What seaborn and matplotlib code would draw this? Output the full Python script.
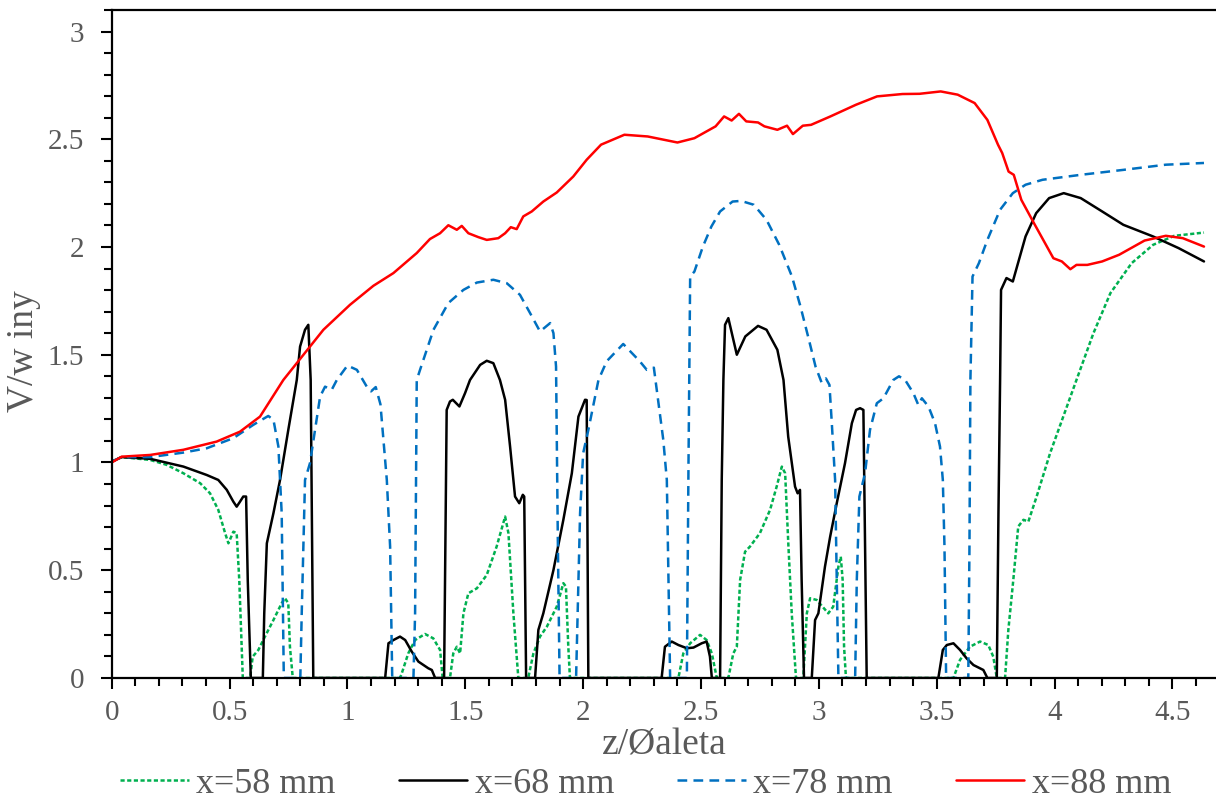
import numpy as np
import pandas as pd
import seaborn as sns
import matplotlib.pyplot as plt
import matplotlib.ticker as mtick

sns.set_style('ticks')
plt.rcParams['font.family'] = ['Liberation Serif', 'DejaVu Serif']
plt.rcParams['lines.scale_dashes'] = False

# x=58 mm
x58 = [0, 0.042, 0.163, 0.233, 0.304, 0.375, 0.417, 0.452, 0.481, 0.495, 0.516, 0.53,
       0.541, 0.556, 0.587, 0.598, 0.622, 0.65, 0.686, 0.721, 0.735, 0.749, 0.756, 0.768,
       1.223, 1.23, 1.258, 1.287, 1.329, 1.364, 1.393, 1.404, 1.435, 1.449, 1.464, 1.478,
       1.492, 1.513, 1.549, 1.591, 1.633, 1.669, 1.683, 1.704, 1.725, 1.767, 1.789, 1.817,
       1.846, 1.888, 1.916, 1.927, 1.937, 1.944, 2.404, 2.425, 2.454, 2.496, 2.524, 2.546,
       2.567, 2.616, 2.637, 2.652, 2.666, 2.687, 2.708, 2.75, 2.793, 2.821, 2.843, 2.857,
       2.871, 2.885, 2.903, 2.934, 2.949, 2.963, 2.991, 3.04, 3.061, 3.083, 3.093, 3.101,
       3.107, 3.115, 3.571, 3.599, 3.641, 3.684, 3.719, 3.74, 3.755, 3.79, 3.804, 3.825,
       3.846, 3.868, 3.889, 3.924, 3.981, 4.037, 4.093, 4.165, 4.237, 4.327, 4.418, 4.508,
       4.634]
v58 = [1.004, 1.025, 1.012, 0.989, 0.95, 0.904, 0.857, 0.78, 0.672, 0.625, 0.679, 0.672,
       0.455, 0, 0, 0.099, 0.13, 0.192, 0.269, 0.347, 0.37, 0.347, 0.145, 0,
       0, 0.02, 0.114, 0.176, 0.204, 0.184, 0.13, 0, 0, 0.114, 0.145, 0.114,
       0.3, 0.393, 0.416, 0.478, 0.61, 0.749, 0.672, 0.3, 0, 0, 0.114, 0.192,
       0.238, 0.331, 0.44, 0.424, 0.145, 0, 0, 0.114, 0.161, 0.2, 0.176, 0.114,
       0, 0, 0.114, 0.145, 0.455, 0.586, 0.61, 0.672, 0.78, 0.888, 0.981, 0.95,
       0.61, 0.3, 0, 0, 0.3, 0.37, 0.362, 0.3, 0.331, 0.517, 0.563, 0.455,
       0.145, 0, 0, 0.084, 0.145, 0.169, 0.153, 0.099, 0, 0, 0.223, 0.455,
       0.703, 0.734, 0.726, 0.842, 1.043, 1.213, 1.383, 1.6, 1.786, 1.925, 2.01, 2.052,
       2.067]

# x=68 mm
x68 = [0, 0.042, 0.163, 0.304, 0.403, 0.452, 0.488, 0.516, 0.53, 0.544, 0.558, 0.57,
       0.577, 0.59, 0.641, 0.647, 0.658, 0.686, 0.714, 0.749, 0.785, 0.799, 0.82, 0.834,
       0.844, 0.855, 1.16, 1.174, 1.195, 1.223, 1.245, 1.273, 1.301, 1.343, 1.358, 1.372,
       1.41, 1.421, 1.435, 1.447, 1.475, 1.499, 1.52, 1.563, 1.591, 1.619, 1.647, 1.669,
       1.69, 1.711, 1.729, 1.744, 1.75, 1.758, 1.796, 1.81, 1.831, 1.874, 1.916, 1.952,
       1.98, 2.008, 2.015, 2.022, 2.333, 2.347, 2.376, 2.404, 2.44, 2.468, 2.503, 2.524,
       2.538, 2.546, 2.581, 2.588, 2.595, 2.602, 2.616, 2.652, 2.688, 2.742, 2.778, 2.824,
       2.85, 2.87, 2.899, 2.91, 2.92, 2.927, 2.937, 2.97, 2.984, 2.998, 3.026, 3.048,
       3.076, 3.111, 3.14, 3.158, 3.175, 3.189, 3.196, 3.203, 3.507, 3.526, 3.543, 3.571,
       3.599, 3.627, 3.656, 3.698, 3.715, 3.755, 3.762, 3.769, 3.773, 3.796, 3.823, 3.841,
       3.877, 3.922, 3.977, 4.039, 4.111, 4.202, 4.292, 4.418, 4.526, 4.634]
v68 = [1.004, 1.025, 1.017, 0.981, 0.942, 0.919, 0.873, 0.818, 0.795, 0.818, 0.842, 0.842,
       0.455, 0, 0, 0.3, 0.625, 0.765, 0.919, 1.151, 1.383, 1.538, 1.616, 1.639,
       1.383, 0, 0, 0.161, 0.176, 0.192, 0.176, 0.122, 0.076, 0.045, 0.037, 0,
       0, 1.244, 1.283, 1.291, 1.26, 1.322, 1.383, 1.453, 1.472, 1.461, 1.383, 1.291,
       1.074, 0.842, 0.811, 0.85, 0.842, 0, 0, 0.223, 0.3, 0.501, 0.734, 0.95,
       1.213, 1.291, 1.29, 0, 0, 0.145, 0.169, 0.153, 0.138, 0.141, 0.161, 0.169,
       0.099, 0, 0, 0.919, 1.383, 1.639, 1.67, 1.5, 1.585, 1.634, 1.616, 1.523,
       1.383, 1.12, 0.888, 0.857, 0.873, 0.455, 0, 0, 0.269, 0.3, 0.517, 0.656,
       0.811, 0.997, 1.182, 1.244, 1.252, 1.244, 0.61, 0, 0, 0.13, 0.153, 0.161,
       0.13, 0.091, 0.06, 0.037, 0, 0, 0.765, 1.383, 1.801, 1.856, 1.84, 1.91,
       2.049, 2.157, 2.227, 2.25, 2.227, 2.165, 2.103, 2.049, 1.995, 1.933]

# x=78 mm
x78 = [0, 0.042, 0.163, 0.304, 0.403, 0.516, 0.601, 0.664, 0.686, 0.707, 0.721, 0.73,
       0.80, 0.806, 0.82, 0.841, 0.884, 0.905, 0.933, 0.955, 1.0, 1.04, 1.082, 1.10,
       1.12, 1.14, 1.167, 1.181, 1.19, 1.28, 1.287, 1.294, 1.308, 1.365, 1.428, 1.492,
       1.549, 1.619, 1.676, 1.732, 1.775, 1.817, 1.86, 1.874, 1.885, 1.893, 1.90, 1.97,
       1.987, 2.0, 2.022, 2.065, 2.10, 2.17, 2.24, 2.27, 2.3, 2.34, 2.355, 2.369,
       2.44, 2.447, 2.454, 2.472, 2.508, 2.544, 2.581, 2.634, 2.67, 2.724, 2.778, 2.832,
       2.886, 2.922, 2.958, 2.986, 3.012, 3.03, 3.045, 3.055, 3.069, 3.076, 3.083, 3.154,
       3.161, 3.172, 3.196, 3.217, 3.246, 3.274, 3.316, 3.34, 3.366, 3.401, 3.422, 3.437,
       3.465, 3.493, 3.514, 3.526, 3.533, 3.54, 3.634, 3.639, 3.643, 3.652, 3.679, 3.715,
       3.769, 3.823, 3.877, 3.949, 4.111, 4.292, 4.472, 4.634]
v78 = [1.004, 1.025, 1.025, 1.046, 1.066, 1.113, 1.175, 1.216, 1.198, 1.074, 0.765, 0,
       0, 0.3, 0.919, 0.997, 1.306, 1.352, 1.337, 1.383, 1.45, 1.43, 1.352, 1.33,
       1.35, 1.27, 0.919, 0.61, 0, 0, 0.3, 1.383, 1.43, 1.616, 1.74, 1.801,
       1.835, 1.848, 1.832, 1.778, 1.693, 1.608, 1.647, 1.6, 1.445, 0.6, 0, 0,
       0.765, 1.043, 1.151, 1.383, 1.47, 1.55, 1.47, 1.43, 1.44, 1.105, 0.919, 0,
       0, 1.0, 1.863, 1.886, 2.002, 2.095, 2.165, 2.211, 2.214, 2.196, 2.126, 2.01,
       1.863, 1.724, 1.569, 1.445, 1.37, 1.39, 1.36, 1.182, 0.919, 0.455, 0, 0,
       0.455, 0.842, 0.95, 1.151, 1.275, 1.298, 1.383, 1.40, 1.383, 1.322, 1.267, 1.298,
       1.26, 1.182, 1.074, 0.919, 0.61, 0, 0, 0.61, 1.383, 1.863, 1.925, 2.033,
       2.173, 2.25, 2.289, 2.312, 2.335, 2.358, 2.382, 2.39]

# x=88 mm
x88 = [0, 0.042, 0.163, 0.304, 0.445, 0.544, 0.629, 0.728, 0.898, 1.011, 1.11, 1.195,
       1.294, 1.35, 1.393, 1.428, 1.464, 1.485, 1.513, 1.555, 1.591, 1.64, 1.669, 1.693,
       1.718, 1.746, 1.782, 1.831, 1.888, 1.958, 2.015, 2.076, 2.175, 2.274, 2.4, 2.472,
       2.562, 2.598, 2.63, 2.661, 2.692, 2.742, 2.769, 2.824, 2.865, 2.89, 2.932, 2.967,
       3.049, 3.157, 3.247, 3.355, 3.427, 3.517, 3.589, 3.661, 3.715, 3.76, 3.778, 3.805,
       3.827, 3.859, 3.913, 3.995, 4.031, 4.067, 4.093, 4.139, 4.202, 4.274, 4.382, 4.472,
       4.544, 4.634]
v88 = [1.0, 1.027, 1.035, 1.059, 1.097, 1.143, 1.213, 1.383, 1.616, 1.732, 1.82, 1.879,
       1.972, 2.037, 2.064, 2.101, 2.08, 2.098, 2.064, 2.046, 2.033, 2.041, 2.064, 2.092,
       2.083, 2.142, 2.165, 2.211, 2.253, 2.327, 2.405, 2.475, 2.521, 2.513, 2.485, 2.505,
       2.56, 2.606, 2.587, 2.618, 2.583, 2.578, 2.56, 2.544, 2.563, 2.524, 2.563, 2.567,
       2.606, 2.66, 2.699, 2.71, 2.711, 2.722, 2.707, 2.668, 2.59, 2.475, 2.436, 2.35,
       2.335, 2.219, 2.11, 1.948, 1.933, 1.897, 1.917, 1.917, 1.933, 1.964, 2.03, 2.052,
       2.041, 2.002]

series = [
    ('x=58 mm', x58, v58, '#00B050', (0, (3, 1.8))),
    ('x=68 mm', x68, v68, 'black', '-'),
    ('x=78 mm', x78, v78, '#0070C0', (0, (7, 4.5))),
    ('x=88 mm', x88, v88, '#FF0000', '-'),
]

grey = '#595959'

fig = plt.figure(figsize=(12.16, 8.05), dpi=100)
ax = fig.add_axes([0.0919, 0.1578, 0.9081, 0.8298])

for name, xs, ys, col, ls in series:
    sns.lineplot(x=xs, y=ys, ax=ax, color=col, linewidth=1.8, linestyle=ls,
                 estimator=None, sort=False, label=name)

ax.set_xlim(0, 4.685)
ax.set_ylim(0, 3.1)
ax.xaxis.set_major_locator(mtick.MultipleLocator(0.5))
ax.xaxis.set_minor_locator(mtick.MultipleLocator(0.1))
ax.yaxis.set_major_locator(mtick.FixedLocator([0, 0.5, 1, 1.5, 2, 2.5, 3]))
ax.yaxis.set_minor_locator(mtick.MultipleLocator(0.1))
fmt = mtick.FuncFormatter(lambda v, p: f'{v:g}')
ax.xaxis.set_major_formatter(fmt)
ax.yaxis.set_major_formatter(fmt)

ax.tick_params(which='major', length=8, width=1.5, direction='out',
               labelsize=21, labelcolor=grey, color='black')
ax.tick_params(which='minor', length=6, width=1.5, direction='out', color='black')
ax.tick_params(axis='y', which='major', pad=12)
ax.tick_params(axis='x', which='major', pad=8)

for s in ['left', 'bottom', 'top']:
    ax.spines[s].set_linewidth(1.6)
    ax.spines[s].set_color('black')
ax.spines['right'].set_visible(False)

ax.set_xlabel('z/Øaleta', fontsize=27, color=grey)
ax.set_ylabel('V/w iny', fontsize=27, color=grey)
ax.xaxis.set_label_coords(0.5, -0.075)
ax.yaxis.set_label_coords(-0.064, 0.49)

ax.legend(loc='center', bbox_to_anchor=(0.531, 0.026), bbox_transform=fig.transFigure,
          ncol=4, frameon=False, fontsize=26, handlelength=1.9, handletextpad=0.2,
          columnspacing=1.75, labelcolor=grey, borderpad=0.2)

fig.savefig('out.png', dpi=100)
